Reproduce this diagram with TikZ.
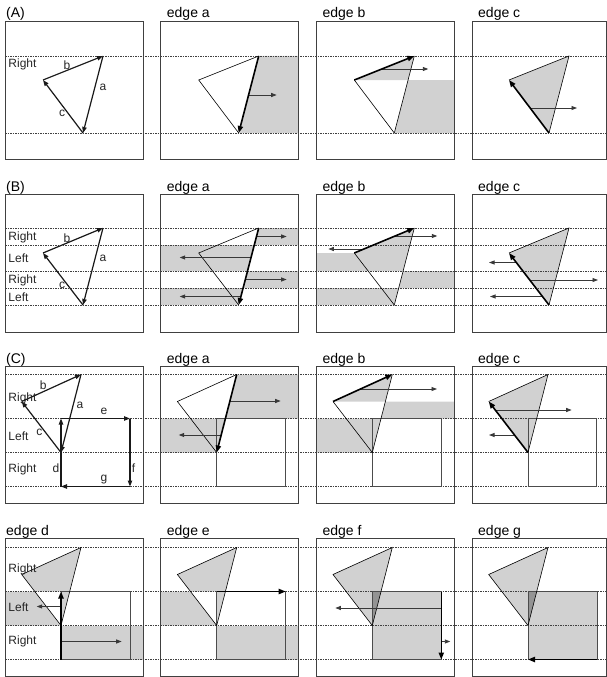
\documentclass[tikz,border=0pt]{standalone}
\usepackage{fontspec}
\setmainfont{Liberation Sans}
\usetikzlibrary{arrows.meta}
\pgfdeclarelayer{bg}
\pgfsetlayers{bg,main}
\begin{document}
\begin{tikzpicture}[x=1pt,y=-1pt,
  panelbox/.style={draw=black!75, line width=0.8pt},
  rowline/.style={draw=black!75, line width=0.6pt, dash pattern=on 1.6pt off 0.9pt},
  greyfill/.style={fill=black!18},
  darkfill/.style={fill=black!42},
  thinedge/.style={draw=black, line width=0.6pt},
  rectline/.style={draw=black!70, line width=0.7pt},
  pedge/.style={draw=black!90, line width=1.2pt, -{Triangle[length=6pt,width=4.4pt]}},
  hotedge/.style={draw=black, line width=1.6pt, -{Triangle[length=7pt,width=5.2pt]}},
  sweep/.style={draw=black!78, line width=0.9pt, -{Triangle[length=5.5pt,width=4pt]}},
  elabel/.style={font=\fontsize{12}{14}\selectfont, inner sep=0pt, text=black!85},
  rowlabel/.style={font=\fontsize{12}{14}\selectfont, inner sep=0pt, anchor=base west, text=black!85},
  paneltitle/.style={font=\fontsize{14}{16}\selectfont, inner sep=0pt, anchor=base west},
]
\useasboundingbox (0,0) rectangle (607,677);

% row guide lines
\foreach \y in {56,133,228,245,271,288,305,374.5,418.5,452.5,486.5,547.5,591.5,625.5,659.5}
  \draw[rowline] (5,\y) -- (607,\y);

% ================= ROW A =================
\begin{scope}[shift={(5,0)}]
  \draw[panelbox] (0,21) rectangle (138,159);
  \node[paneltitle] (tA) at (1,18) {(A)};
  \coordinate (T) at (98,56); \coordinate (L) at (38,80); \coordinate (B) at (78,133);
  \draw[pedge] (T) -- (B); \draw[pedge] (L) -- (T); \draw[pedge] (B) -- (L);
  \node[elabel] (A1a) at (98,87) {a};
  \node[elabel] (A1b) at (62,65) {b};
  \node[elabel] (A1c) at (57,113) {c};
  \node[rowlabel] (A1r) at (3.3,67.5) {Right};
\end{scope}
\begin{scope}[shift={(160.7,0)}]
  \draw[panelbox] (0,21) rectangle (138,159);
  \node[paneltitle] (tA2) at (6,18) {edge a};
  \coordinate (T) at (98,56); \coordinate (L) at (38,80); \coordinate (B) at (78,133);
  \begin{pgfonlayer}{bg}
    \fill[greyfill] (T) -- (138,56) -- (138,133) -- (B) -- cycle;
  \end{pgfonlayer}
  \draw[thinedge] (B) -- (L) -- (T);
  \draw[sweep] (87.9,95) -- (116,95);
  \draw[hotedge] (T) -- (B);
\end{scope}
\begin{scope}[shift={(316.3,0)}]
  \draw[panelbox] (0,21) rectangle (138,159);
  \node[paneltitle] (tA3) at (6,18) {edge b};
  \coordinate (T) at (98,56); \coordinate (L) at (38,80); \coordinate (B) at (78,133);
  \begin{pgfonlayer}{bg}
    \fill[greyfill] (L) -- (T) -- (91.77,80) -- cycle;
    \fill[greyfill] (91.77,80) -- (138,80) -- (138,133) -- (B) -- cycle;
  \end{pgfonlayer}
  \draw[thinedge] (T) -- (B) -- (L);
  \draw[sweep] (65.5,69) -- (112,69);
  \draw[hotedge] (L) -- (T);
\end{scope}
\begin{scope}[shift={(472,0)}]
  \draw[panelbox] (0,21) rectangle (134.5,159);
  \node[paneltitle] (tA4) at (6,18) {edge c};
  \coordinate (T) at (97,56); \coordinate (L) at (37,80); \coordinate (B) at (77,133);
  \begin{pgfonlayer}{bg}
    \fill[greyfill] (T) -- (L) -- (B) -- cycle;
  \end{pgfonlayer}
  \draw[thinedge] (L) -- (T) -- (B);
  \draw[sweep] (58.1,108) -- (105,108);
  \draw[hotedge] (B) -- (L);
\end{scope}

% ================= ROW B =================
\begin{scope}[shift={(5,0)}]
  \draw[panelbox] (0,194) rectangle (138,332);
  \node[paneltitle] (tB) at (1,191) {(B)};
  \coordinate (T) at (98,228); \coordinate (L) at (38,253); \coordinate (B) at (78,305);
  \draw[pedge] (T) -- (B); \draw[pedge] (L) -- (T); \draw[pedge] (B) -- (L);
  \node[elabel] (B1a) at (98,258.3) {a};
  \node[elabel] (B1b) at (62,238.3) {b};
  \node[elabel] (B1c) at (57,285) {c};
  \node[rowlabel] (B1r1) at (3.3,240.8) {Right};
  \node[rowlabel] (B1l1) at (3.3,262.3) {Left};
  \node[rowlabel] (B1r2) at (3.3,283.6) {Right};
  \node[rowlabel] (B1l2) at (3.3,301.3) {Left};
\end{scope}
\begin{scope}[shift={(160.7,0)}]
  \draw[panelbox] (0,194) rectangle (138,332);
  \node[paneltitle] (tB2) at (6,191) {edge a};
  \coordinate (T) at (98,228); \coordinate (L) at (38,253); \coordinate (B) at (78,305);
  \begin{pgfonlayer}{bg}
    \fill[greyfill] (T) -- (138,228) -- (138,245) -- (93.58,245) -- cycle;
    \fill[greyfill] (0,245) -- (93.58,245) -- (86.83,271) -- (0,271) -- cycle;
    \fill[greyfill] (86.83,271) -- (138,271) -- (138,288) -- (82.42,288) -- cycle;
    \fill[greyfill] (0,288) -- (82.42,288) -- (B) -- (0,305) -- cycle;
  \end{pgfonlayer}
  \draw[thinedge] (B) -- (L) -- (T);
  \draw[sweep] (95.8,236.5) -- (126,236.5);
  \draw[sweep] (90.3,257.5) -- (19,257.5);
  \draw[sweep] (84.6,279.5) -- (126,279.5);
  \draw[sweep] (80.2,296.5) -- (19,296.5);
  \draw[hotedge] (T) -- (B);
\end{scope}
\begin{scope}[shift={(316.3,0)}]
  \draw[panelbox] (0,194) rectangle (138,332);
  \node[paneltitle] (tB3) at (6,191) {edge b};
  \coordinate (T) at (98,228); \coordinate (L) at (38,253); \coordinate (B) at (78,305);
  \begin{pgfonlayer}{bg}
    \fill[greyfill] (T) -- (86.83,271) -- (0,271) -- (0,253) -- (L) -- cycle;
    \fill[greyfill] (86.83,271) -- (138,271) -- (138,288) -- (82.42,288) -- cycle;
    \fill[greyfill] (0,288) -- (82.42,288) -- (B) -- (0,305) -- cycle;
  \end{pgfonlayer}
  \draw[thinedge] (T) -- (B) -- (L);
  \draw[sweep] (78.8,236) -- (121,236);
  \draw[sweep] (47.6,249) -- (12,249);
  \draw[hotedge] (L) -- (T);
\end{scope}
\begin{scope}[shift={(472,0)}]
  \draw[panelbox] (0,194) rectangle (134.5,332);
  \node[paneltitle] (tB4) at (6,191) {edge c};
  \coordinate (T) at (97,228); \coordinate (L) at (37,253); \coordinate (B) at (77,305);
  \begin{pgfonlayer}{bg}
    \fill[greyfill] (T) -- (L) -- (B) -- cycle;
  \end{pgfonlayer}
  \draw[thinedge] (L) -- (T) -- (B);
  \draw[sweep] (44.3,262.5) -- (17,262.5);
  \draw[sweep] (57.8,280) -- (126,280);
  \draw[sweep] (70.5,296.5) -- (18,296.5);
  \draw[hotedge] (B) -- (L);
\end{scope}

% ================= ROW C =================
\begin{scope}[shift={(5,0)}]
  \draw[panelbox] (0,366.5) rectangle (138,503.5);
  \node[paneltitle] (tC) at (1,363.5) {(C)};
  \coordinate (T) at (76,374.5); \coordinate (L) at (16.7,401.5); \coordinate (B) at (56,452.5);
  \coordinate (R1) at (56,418.5); \coordinate (R2) at (125,418.5);
  \coordinate (R3) at (125,486.5); \coordinate (R4) at (56,486.5);
  \draw[pedge] (T) -- (B); \draw[pedge] (L) -- (T); \draw[pedge] (B) -- (L);
  \draw[pedge] (R4) -- (R1); \draw[pedge] (R1) -- (R2);
  \draw[pedge] (R2) -- (R3); \draw[pedge] (R3) -- (R4);
  \node[elabel] (C1a) at (75,405.7) {a};
  \node[elabel] (C1b) at (38.3,385) {b};
  \node[elabel] (C1c) at (34.3,432.3) {c};
  \node[elabel] (C1d) at (51,468.3) {d};
  \node[elabel] (C1e) at (99,411.7) {e};
  \node[elabel] (C1f) at (128.5,468.3) {f};
  \node[elabel] (C1g) at (99,480) {g};
  \node[rowlabel] (C1r1) at (3.3,401) {Right};
  \node[rowlabel] (C1l1) at (3.3,440.3) {Left};
  \node[rowlabel] (C1r2) at (3.3,472.6) {Right};
\end{scope}
\begin{scope}[shift={(160.7,0)}]
  \draw[panelbox] (0,366.5) rectangle (138,503.5);
  \node[paneltitle] (tC2) at (6,363.5) {edge a};
  \coordinate (T) at (76,374.5); \coordinate (L) at (16.7,401.5); \coordinate (B) at (56,452.5);
  \begin{pgfonlayer}{bg}
    \fill[greyfill] (T) -- (138,374.5) -- (138,418.5) -- (64.72,418.5) -- cycle;
    \fill[greyfill] (0,418.5) -- (64.72,418.5) -- (B) -- (0,452.5) -- cycle;
  \end{pgfonlayer}
  \draw[rectline] (56,418.5) rectangle (125,486.5);
  \draw[thinedge] (B) -- (L) -- (T);
  \draw[sweep] (69.2,401) -- (120,401);
  \draw[sweep] (60.5,435) -- (18,435);
  \draw[hotedge] (T) -- (B);
\end{scope}
\begin{scope}[shift={(316.3,0)}]
  \draw[panelbox] (0,366.5) rectangle (138,503.5);
  \node[paneltitle] (tC3) at (6,363.5) {edge b};
  \coordinate (T) at (76,374.5); \coordinate (L) at (16.7,401.5); \coordinate (B) at (56,452.5);
  \begin{pgfonlayer}{bg}
    \fill[greyfill] (T) -- (69.08,401.5) -- (L) -- cycle;
    \fill[greyfill] (69.08,401.5) -- (138,401.5) -- (138,418.5) -- (64.72,418.5) -- cycle;
    \fill[greyfill] (0,418.5) -- (64.72,418.5) -- (B) -- (0,452.5) -- cycle;
  \end{pgfonlayer}
  \draw[rectline] (56,418.5) rectangle (125,486.5);
  \draw[thinedge] (T) -- (B) -- (L);
  \draw[sweep] (44.2,389) -- (120.7,389);
  \draw[hotedge] (L) -- (T);
\end{scope}
\begin{scope}[shift={(472,0)}]
  \draw[panelbox] (0,366.5) rectangle (134.5,503.5);
  \node[paneltitle] (tC4) at (6,363.5) {edge c};
  \coordinate (T) at (76,374.5); \coordinate (L) at (16.7,401.5); \coordinate (B) at (56,452.5);
  \begin{pgfonlayer}{bg}
    \fill[greyfill] (T) -- (L) -- (B) -- cycle;
  \end{pgfonlayer}
  \draw[rectline] (56,418.5) rectangle (124,486.5);
  \draw[thinedge] (L) -- (T) -- (B);
  \draw[sweep] (23.2,410) -- (99.7,410);
  \draw[sweep] (42.5,435) -- (17,435);
  \draw[hotedge] (B) -- (L);
\end{scope}

% ================= ROW D =================
\begin{scope}[shift={(5,0)}]
  \draw[panelbox] (0,538.5) rectangle (138,676.5);
  \node[paneltitle] (tD1) at (1,535) {edge d};
  \coordinate (T) at (76,547.5); \coordinate (L) at (16.7,574.5); \coordinate (B) at (56,625.5);
  \begin{pgfonlayer}{bg}
    \fill[greyfill] (T) -- (L) -- (29.8,591.5) -- (64.72,591.5) -- cycle;
    \fill[greyfill] (0,591.5) -- (29.8,591.5) -- (B) -- (0,625.5) -- cycle;
    \fill[greyfill] (56,591.5) -- (64.72,591.5) -- (B) -- cycle;
    \fill[greyfill] (56,625.5) rectangle (138,659.5);
  \end{pgfonlayer}
  \draw[rectline] (56,591.5) rectangle (125,659.5);
  \draw[thinedge] (B) -- (L) -- (T) -- cycle;
  \draw[sweep] (56,606.5) -- (31.7,606.5);
  \draw[sweep] (56,641.5) -- (116.7,641.5);
  \draw[hotedge] (56,659.5) -- (56,591.5);
  \node[rowlabel] (D1r1) at (3.3,572.6) {Right};
  \node[rowlabel] (D1l1) at (3.3,611) {Left};
  \node[rowlabel] (D1r2) at (3.3,644.3) {Right};
\end{scope}
\begin{scope}[shift={(160.7,0)}]
  \draw[panelbox] (0,538.5) rectangle (138,676.5);
  \node[paneltitle] (tD2) at (6,535) {edge e};
  \coordinate (T) at (76,547.5); \coordinate (L) at (16.7,574.5); \coordinate (B) at (56,625.5);
  \begin{pgfonlayer}{bg}
    \fill[greyfill] (T) -- (L) -- (29.8,591.5) -- (64.72,591.5) -- cycle;
    \fill[greyfill] (0,591.5) -- (29.8,591.5) -- (B) -- (0,625.5) -- cycle;
    \fill[greyfill] (56,591.5) -- (64.72,591.5) -- (B) -- cycle;
    \fill[greyfill] (56,625.5) rectangle (138,659.5);
  \end{pgfonlayer}
  \draw[rectline] (56,591.5) rectangle (125,659.5);
  \draw[thinedge] (B) -- (L) -- (T) -- cycle;
  \draw[hotedge] (56,591.5) -- (125,591.5);
\end{scope}
\begin{scope}[shift={(316.3,0)}]
  \draw[panelbox] (0,538.5) rectangle (138,676.5);
  \node[paneltitle] (tD3) at (6,535) {edge f};
  \coordinate (T) at (76,547.5); \coordinate (L) at (16.7,574.5); \coordinate (B) at (56,625.5);
  \begin{pgfonlayer}{bg}
    \fill[greyfill] (T) -- (L) -- (B) -- cycle;
    \fill[greyfill] (56,591.5) rectangle (125,659.5);
    \fill[darkfill] (56,591.5) -- (64.72,591.5) -- (B) -- cycle;
  \end{pgfonlayer}
  \draw[rectline] (56,591.5) rectangle (125,659.5);
  \draw[thinedge] (B) -- (L) -- (T) -- cycle;
  \draw[sweep] (125,608) -- (19,608);
  \draw[sweep] (125,641.5) -- (134,641.5);
  \draw[hotedge] (125,591.5) -- (125,659.5);
\end{scope}
\begin{scope}[shift={(472,0)}]
  \draw[panelbox] (0,538.5) rectangle (134.5,676.5);
  \node[paneltitle] (tD4) at (6,535) {edge g};
  \coordinate (T) at (76,547.5); \coordinate (L) at (16.7,574.5); \coordinate (B) at (56,625.5);
  \begin{pgfonlayer}{bg}
    \fill[greyfill] (T) -- (L) -- (B) -- cycle;
    \fill[greyfill] (56,591.5) rectangle (125,659.5);
    \fill[darkfill] (56,591.5) -- (64.72,591.5) -- (B) -- cycle;
  \end{pgfonlayer}
  \draw[rectline] (56,591.5) rectangle (125,659.5);
  \draw[thinedge] (B) -- (L) -- (T) -- cycle;
  \draw[hotedge] (125,659.5) -- (56,659.5);
\end{scope}
\end{tikzpicture}
\end{document}
